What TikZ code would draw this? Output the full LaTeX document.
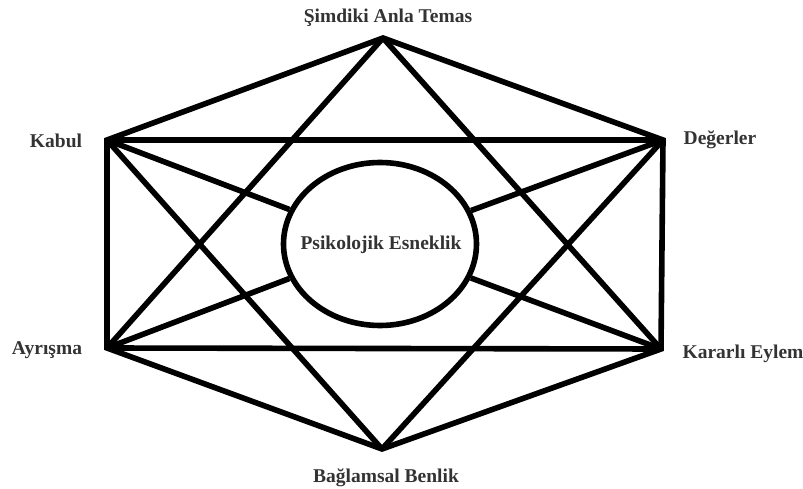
\documentclass[tikz,border=0pt]{standalone}
\usepackage{fontspec}
\setmainfont{Liberation Serif}
\usetikzlibrary{positioning,shapes.geometric}
\tikzset{
	hexline/.style={line width=5.6pt, draw=black, line join=miter},
	lbl/.style={font=\fontsize{19.5}{22}\selectfont\bfseries, text=black!80,
		inner sep=0pt, anchor=base},
	core/.style={ellipse, draw=black, line width=5.6pt, minimum width=193pt,
		minimum height=163pt, inner sep=0pt,
		font=\fontsize{19.5}{22}\selectfont\bfseries, text=black!80},
}

\begin{document}
\begin{tikzpicture}[x=1pt,y=-1pt]
	\useasboundingbox (0,0) rectangle (803,489);

	% hexagon corners
	\coordinate (top) at (383,38);
	\coordinate (ul)  at (107,140);
	\coordinate (ur)  at (663,140);
	\coordinate (ll)  at (107,348);
	\coordinate (lr)  at (661,349);
	\coordinate (bot) at (382,449);

	% centre
	\node[core] at (380,244) (pe) {};
	\node[lbl] at (381,250) (pelbl) {Psikolojik Esneklik};

	% outer labels
	\node[lbl] at (388,23)  (simdiki) {Şimdiki Anla Temas};
	\node[lbl] at (56,148)  (kabul)   {Kabul};
	\node[lbl] at (720,145) (deger)   {Değerler};
	\node[lbl] at (47,354)  (ayrisma) {Ayrışma};
	\node[lbl] at (743,358) (kararli) {Kararlı Eylem};
	\node[lbl] at (386,482) (baglam)  {Bağlamsal Benlik};

	% hexagon
	\draw[hexline] (top) -- (ur) -- (lr) -- (bot) -- (ll) -- (ul) -- cycle;

	% inner rectangle edges
	\draw[hexline] (ul) -- (ur);
	\draw[hexline] (ll) -- (lr);

	% star
	\draw[hexline] (top) -- (ll);
	\draw[hexline] (top) -- (lr);
	\draw[hexline] (bot) -- (ul);
	\draw[hexline] (bot) -- (ur);

	% spokes to centre
	\draw[hexline] (ul) -- (pe);
	\draw[hexline] (ur) -- (pe);
	\draw[hexline] (ll) -- (pe);
	\draw[hexline] (lr) -- (pe);
\end{tikzpicture}
\end{document}
